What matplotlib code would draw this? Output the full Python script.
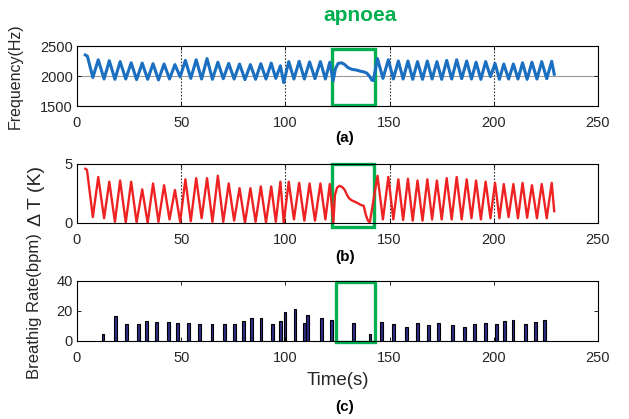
import numpy as np
import matplotlib.pyplot as plt
from matplotlib.patches import Rectangle

plt.rcParams['font.family'] = ['Liberation Sans', 'DejaVu Sans']

# breathing cycle turning points (s) before and after the apnoea
pre_trough_t = [7.6, 13.0, 18.2, 23.4, 28.6, 33.9, 39.1, 44.4, 49.5, 54.6, 59.8, 65.0,
                70.2, 75.4, 80.6, 85.7, 90.7, 95.4, 99.2, 104.1, 109.1, 114.2, 119.2]
pre_peak_t = [10.2, 15.5, 20.7, 26.0, 31.3, 36.5, 41.8, 47.0, 52.0, 57.2, 62.4, 67.6,
              72.8, 78.0, 83.2, 88.2, 93.2, 97.6, 101.6, 106.6, 111.6, 116.8, 121.3]
post_peak_t = [144.2, 149.4, 154.2, 158.8, 163.4, 168.1, 172.7, 177.4, 182.2, 187.0,
               191.5, 196.1, 200.6, 204.8, 209.4, 213.8, 218.3, 223.0, 227.8]
post_trough_t = [146.8, 151.8, 156.5, 161.1, 165.8, 170.4, 175.0, 179.8, 184.6, 189.3,
                 193.8, 198.4, 202.7, 207.1, 211.6, 216.0, 220.7, 225.4]

# (a) resonance frequency (Hz)
freq_start_t = [4.0, 5.0]
freq_start = [2350, 2330]
freq_pre_trough = [1975, 1950, 1945, 1950, 1940, 1945, 1935, 1950, 1985, 1960, 1950, 1945,
                   1955, 1950, 1940, 1945, 1950, 1960, 1890, 1950, 1950, 1955, 1950]
freq_pre_peak = [2270, 2255, 2240, 2220, 2215, 2205, 2200, 2190, 2260, 2270, 2290, 2230,
                 2210, 2200, 2190, 2205, 2215, 2170, 2240, 2245, 2235, 2240, 2230]
freq_apn_t = [122.9, 124.0, 125.3, 127.0, 128.5, 130.0, 132.0, 134.0, 136.0, 137.5,
              139.0, 140.3, 141.5, 142.2]
freq_apn = [1920, 2120, 2210, 2220, 2190, 2140, 2110, 2100, 2080, 2070, 2050, 2000, 1930, 1925]
freq_post_peak = [2290, 2270, 2250, 2250, 2240, 2250, 2240, 2260, 2270, 2250, 2230, 2240,
                  2210, 2200, 2200, 2220, 2230, 2240, 2245]
freq_post_trough = [1960, 1950, 1950, 1945, 1945, 1950, 1945, 1950, 1955, 1950, 1945, 1990,
                    1945, 1950, 1950, 1945, 1950, 1955]
freq_end_t, freq_end = 229.0, 2030

# (b) temperature difference (K)
temp_start_t = [4.0, 4.8]
temp_start = [4.6, 4.5]
temp_pre_trough = [0.5, 0.4, 0.1, 0.05, 0.05, 0.0, 0.1, 0.3, 0.1, 0.15, 0.4, 0.1,
                   0.1, 0.2, 0.0, 0.1, 0.05, 0.1, 0.0, 0.3, 0.2, 0.2, 0.3]
temp_pre_peak = [3.9, 3.5, 3.6, 3.5, 2.85, 3.35, 3.2, 2.8, 3.7, 3.8, 3.8, 4.0,
                 3.35, 2.95, 2.95, 3.1, 3.1, 3.5, 3.5, 3.4, 3.35, 3.35, 3.3]
temp_apn_t = [123.0, 123.8, 124.8, 126.0, 127.2, 128.5, 129.5, 130.5, 132.0, 134.0,
              136.0, 137.6, 138.6, 139.6, 140.5]
temp_apn = [0.0, 2.4, 3.0, 3.15, 3.05, 2.8, 2.4, 2.1, 1.9, 1.75, 1.55, 1.45, 0.7, 0.2, 0.05]
temp_post_peak = [4.0, 3.9, 3.7, 3.75, 3.6, 3.7, 3.6, 3.8, 3.9, 3.7, 3.6, 3.5,
                  3.4, 3.3, 3.3, 3.4, 3.2, 3.3, 3.4]
temp_post_trough = [0.3, 0.3, 0.25, 0.2, 0.2, 0.3, 0.3, 0.3, 0.3, 0.4, 0.3, 0.4,
                    0.4, 0.5, 0.4, 0.45, 0.4, 0.4]
temp_end_t, temp_end = 229.0, 1.0

# (c) breathing rate per breath (bpm)
bar_t = [12.5, 18.6, 23.8, 29.3, 33.4, 38.2, 43.8, 48.3, 53.7, 59.0, 64.8, 70.7, 75.7, 79.8,
         83.8, 88.3, 93.7, 97.7, 99.8, 104.6, 109.1, 110.7, 117.4, 122.2, 132.9, 140.6,
         145.9, 151.8, 158.2, 163.5, 168.8, 173.6, 180.3, 186.0, 190.8, 195.9, 201.2,
         205.2, 209.2, 215.4, 219.9, 224.2]
bar_bpm = [4.9, 16.5, 11.4, 11.6, 13.0, 12.5, 12.5, 11.8, 11.8, 11.4, 11.0, 11.0, 11.4, 13.0,
           15.0, 15.0, 11.6, 13.4, 19.0, 21.2, 12.3, 17.2, 15.2, 14.1, 11.8, 4.5,
           12.5, 11.6, 9.2, 11.8, 10.7, 12.1, 10.7, 9.6, 11.6, 12.1, 11.6,
           13.6, 14.3, 11.0, 12.5, 14.3]


def trace(start_t, start_v, pre_tr, pre_pk, apn_t, apn_v, post_pk, post_tr, end_t, end_v):
    t = (list(start_t)
         + list(np.column_stack([pre_trough_t, pre_peak_t]).ravel())
         + list(apn_t)
         + list(np.column_stack([post_peak_t[:-1], post_trough_t]).ravel())
         + [post_peak_t[-1], end_t])
    v = (list(start_v)
         + list(np.column_stack([pre_tr, pre_pk]).ravel())
         + list(apn_v)
         + list(np.column_stack([post_pk[:-1], post_tr]).ravel())
         + [post_pk[-1], end_v])
    return t, v


green = '#00b050'
tick_col = '#262626'

fig = plt.figure(figsize=(6.29, 4.19), dpi=100)
ax1 = fig.add_axes([0.1224, 0.747, 0.8283, 0.1432])
ax2 = fig.add_axes([0.1224, 0.4678, 0.8283, 0.1408])
ax3 = fig.add_axes([0.1224, 0.1862, 0.8283, 0.1432])

for ax in (ax1, ax2, ax3):
    ax.set_xlim(0, 250)
    ax.set_xticks([0, 50, 100, 150, 200, 250])
    ax.tick_params(direction='in', top=True, right=True, length=3, width=0.6,
                   labelsize=10.5, labelcolor=tick_col, pad=3)
    ax.tick_params(axis='x', pad=7)
    for s in ax.spines.values():
        s.set_linewidth(0.8)

# (a)
t, v = trace(freq_start_t, freq_start, freq_pre_trough, freq_pre_peak, freq_apn_t, freq_apn,
             freq_post_peak, freq_post_trough, freq_end_t, freq_end)
ax1.plot(t, v, color='#1a6fc0', lw=2.2, solid_joinstyle='round')
ax1.set_ylim(1500, 2500)
ax1.set_yticks([1500, 2000, 2500])
ax1.grid(axis='x', color='#333333', linestyle=(0, (1.5, 1.5)), lw=0.8)
ax1.grid(axis='y', color='#9a9a9a', lw=0.8)
ax1.set_axisbelow(True)
ax1.set_ylabel('Frequency(Hz)', fontsize=11.5, color=tick_col)
ax1.yaxis.set_label_coords(-0.105, 0.5)
ax1.add_patch(Rectangle((122.2, 1515), 20.9, 930, fill=False, ec=green, lw=2.4, clip_on=False))

# (b)
t, v = trace(temp_start_t, temp_start, temp_pre_trough, temp_pre_peak, temp_apn_t, temp_apn,
             temp_post_peak, temp_post_trough, temp_end_t, temp_end)
ax2.plot(t, v, color='#ee2222', lw=1.7, solid_joinstyle='round')
ax2.set_ylim(0, 5)
ax2.set_yticks([0, 5])
ax2.grid(axis='x', color='#333333', linestyle=(0, (1.5, 1.5)), lw=0.8)
ax2.set_axisbelow(True)
ax2.set_ylabel('Δ T (K)', fontsize=14, color=tick_col)
ax2.yaxis.set_label_coords(-0.062, 0.45)
ax2.add_patch(Rectangle((122.2, -0.3), 20.5, 5.3, fill=False, ec=green, lw=2.4, clip_on=False))

# (c)
ax3.bar(bar_t, bar_bpm, width=1.4, color='#2d2d86', edgecolor='black', lw=0.8)
ax3.set_ylim(0, 40)
ax3.set_yticks([0, 20, 40])
ax3.set_ylabel('Breathig Rate(bpm)', fontsize=12, color=tick_col)
ax3.yaxis.set_label_coords(-0.067, 0.58)
ax3.set_xlabel('Time(s)', fontsize=13.5, color=tick_col, labelpad=5)
ax3.add_patch(Rectangle((124.5, -0.5), 18.7, 40, fill=False, ec=green, lw=2.4, clip_on=False))

fig.text(0.572, 0.964, 'apnoea', color=green, fontsize=15, fontweight='bold',
         ha='center', va='center')
fig.text(0.5485, 0.671, '(a)', fontsize=11, fontweight='bold', ha='center', va='center')
fig.text(0.5485, 0.387, '(b)', fontsize=11, fontweight='bold', ha='center', va='center')
fig.text(0.5485, 0.029, '(c)', fontsize=11, fontweight='bold', ha='center', va='center')

fig.savefig('out.png', dpi=100)
